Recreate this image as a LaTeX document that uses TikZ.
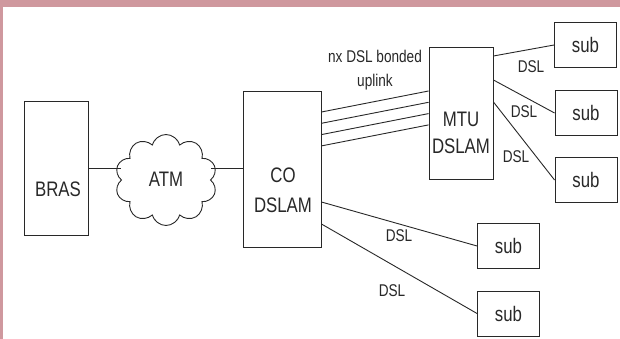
\documentclass[tikz,border=0pt]{standalone}
\usepackage{fontspec}
\setmainfont{Liberation Sans}[FakeStretch=0.8]
\usetikzlibrary{shapes.symbols,calc}
\definecolor{frame}{RGB}{207,152,158}
\definecolor{ink}{RGB}{40,40,40}

\begin{document}
\begin{tikzpicture}[x=1pt,y=-1pt,
  box/.style={draw=ink, line width=0.9pt, inner sep=0pt, minimum width=62, minimum height=45},
  big/.style={inner sep=0pt, text=ink, font=\fontsize{21}{27}\selectfont, align=center},
  small/.style={inner sep=0pt, text=ink, font=\fontsize{17}{24}\selectfont, align=center},
  wire/.style={draw=ink, line width=0.9pt}]

% page frame
\fill[frame] (0,0) rectangle (620,339);
\fill[white] (3,7) rectangle (620,339);
\useasboundingbox (0,0) rectangle (620,339);

% access network
\node[box, minimum width=64, minimum height=134] (bras) at (56,168) {};
\node[big] (brastext) at (58,189) {BRAS};

\node[cloud, cloud puffs=10, draw=ink, line width=0.9pt, inner sep=0pt,
      minimum width=102, minimum height=91] (atm) at (166,180) {};
\node[big] (atmtext) at (166,179.5) {ATM};

\node[box, minimum width=78, minimum height=156] (co) at (282,169) {};
\node[big, font=\fontsize{21}{30}\selectfont] (cotext) at (283,190) {CO\\DSLAM};

\node[box, minimum width=64, minimum height=132] (mtu) at (461,113) {};
\node[big] (mtutext) at (461,132.5) {MTU\\DSLAM};

% subscribers
\node[box, big] (sub1) at (585.5,45) {sub};
\node[box, big] (sub2) at (586,113) {sub};
\node[box, big] (sub3) at (586,180) {sub};
\node[box, big] (sub4) at (508.5,246) {sub};
\node[box, big] (sub5) at (508.5,313.5) {sub};

% links
\draw[wire] (bras.east) -- (bras.east -| atm.west);
\draw[wire] (atm.east |- bras.east) -- (co.west |- bras.east);

\foreach \i in {0,1,2,3}
  \draw[wire] ([yshift={57-11.3*\i}]co.east) -- ([yshift={22-11.3*\i}]mtu.west);
\node[small] (bonded) at (375,70.5) {nx DSL bonded\\uplink};

\draw[wire] ([yshift=57]mtu.east) -- (sub1.west);
\draw[wire] ([yshift=33]mtu.east) -- (sub2.west);
\draw[wire] ([yshift=11]mtu.east) -- (sub3.west);
\draw[wire] ([yshift=-33]co.east) -- (sub4.west);
\draw[wire] ([yshift=-55]co.east) -- (sub5.west);

\node[small] (dsl1) at (531,67) {DSL};
\node[small] (dsl2) at (524,112) {DSL};
\node[small] (dsl3) at (516,157) {DSL};
\node[small] (dsl4) at (399,236) {DSL};
\node[small] (dsl5) at (392,291) {DSL};
\end{tikzpicture}
\end{document}
